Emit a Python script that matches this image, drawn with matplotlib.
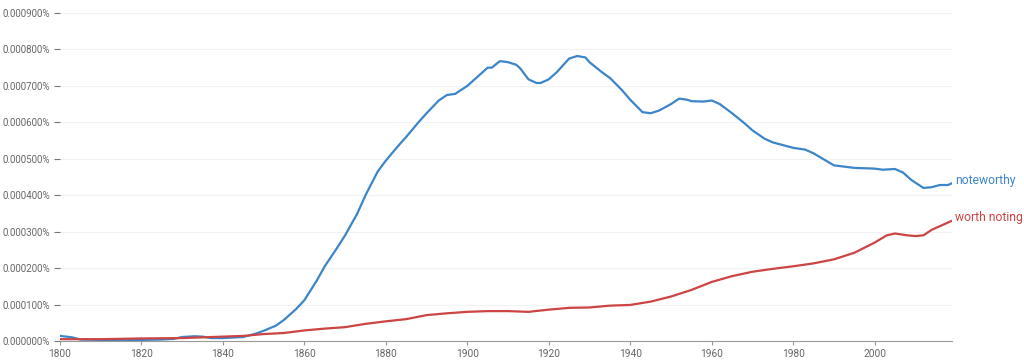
import matplotlib
matplotlib.use("Agg")
import matplotlib.pyplot as plt
from matplotlib.ticker import FuncFormatter

plt.rcParams["font.family"] = ["Roboto", "DejaVu Sans"]

years_nw = [1800, 1803, 1805, 1810, 1815, 1820, 1825, 1828, 1830, 1833, 1835, 1837, 1840, 1845,
            1848, 1850, 1853, 1855, 1858, 1860, 1863, 1865, 1868, 1870, 1873, 1875, 1878, 1880,
            1883, 1885, 1888, 1890, 1893, 1895, 1897, 1900, 1903, 1905, 1906, 1908, 1910, 1912,
            1913, 1915, 1917, 1918, 1920, 1922, 1925, 1927, 1929, 1930, 1933, 1935, 1938, 1940,
            1943, 1945, 1947, 1950, 1952, 1954, 1955, 1958, 1960, 1962, 1965, 1968, 1970, 1973,
            1975, 1980, 1983, 1985, 1990, 1995, 2000, 2002, 2005, 2007, 2009, 2012, 2014, 2016,
            2018, 2019]
noteworthy = [0.000014, 0.000010, 0.000004, 0.000003, 0.000003, 0.000003, 0.000004, 0.000006,
              0.000011, 0.000013, 0.000012, 0.000008, 0.000008, 0.000011, 0.000020, 0.000028,
              0.000042, 0.000058, 0.000088, 0.000112, 0.000165, 0.000205, 0.000255, 0.000290,
              0.000350, 0.000400, 0.000465, 0.000495, 0.000535, 0.000560, 0.000600, 0.000625,
              0.000660, 0.000675, 0.000678, 0.000700, 0.000730, 0.000750, 0.000750, 0.000768,
              0.000765, 0.000758, 0.000748, 0.000718, 0.000708, 0.000708, 0.000718, 0.000738,
              0.000775, 0.000782, 0.000778, 0.000765, 0.000738, 0.000722, 0.000688, 0.000662,
              0.000628, 0.000625, 0.000632, 0.000650, 0.000665, 0.000662, 0.000658, 0.000657,
              0.000660, 0.000650, 0.000625, 0.000598, 0.000578, 0.000555, 0.000545, 0.000530,
              0.000525, 0.000515, 0.000482, 0.000475, 0.000473, 0.000470, 0.000472, 0.000462,
              0.000442, 0.000420, 0.000422, 0.000428, 0.000428, 0.000433]

years_wn = [1800, 1810, 1820, 1830, 1840, 1845, 1850, 1855, 1860, 1865, 1870, 1875, 1880, 1885,
            1890, 1895, 1900, 1905, 1910, 1915, 1920, 1925, 1930, 1935, 1940, 1945, 1950, 1955,
            1960, 1965, 1970, 1975, 1980, 1985, 1990, 1995, 2000, 2003, 2005, 2008, 2010, 2012,
            2014, 2017, 2019]
worth_noting = [0.000005, 0.000005, 0.000007, 0.000008, 0.000012, 0.000014, 0.000019, 0.000022,
                0.000029, 0.000034, 0.000038, 0.000047, 0.000054, 0.000060, 0.000071, 0.000076,
                0.000080, 0.000082, 0.000082, 0.000080, 0.000086, 0.000091, 0.000092, 0.000097,
                0.000099, 0.000108, 0.000122, 0.000140, 0.000162, 0.000178, 0.000190, 0.000198,
                0.000205, 0.000213, 0.000224, 0.000242, 0.000270, 0.000290, 0.000295, 0.000290,
                0.000288, 0.000290, 0.000305, 0.000320, 0.000330]

series_names = ["noteworthy", "worth noting"]
colors = ["#3b85c8", "#cc4444"]

y_ticks = [i * 0.0001 for i in range(10)]
x_ticks = [1800, 1820, 1840, 1860, 1880, 1900, 1920, 1940, 1960, 1980, 2000]

fig = plt.figure(figsize=(10.24, 3.63), dpi=100)
ax = fig.add_axes([60 / 1024, 22 / 363, (952 - 60) / 1024, (341 - 13) / 363])

ax.plot(years_nw, noteworthy, color=colors[0], lw=1.6, solid_capstyle="round")
ax.plot(years_wn, worth_noting, color=colors[1], lw=1.6, solid_capstyle="round")

ax.text(2019.8, noteworthy[-1] + 0.000008, series_names[0], color=colors[0], fontsize=8.7,
        va="center", ha="left", clip_on=False)
ax.text(2019.8, worth_noting[-1] + 0.000008, series_names[1], color=colors[1], fontsize=8.7,
        va="center", ha="left", clip_on=False)

ax.set_xlim(1800, 2019)
ax.set_ylim(0, 0.0009)
ax.set_yticks(y_ticks)
ax.set_xticks(x_ticks)
ax.yaxis.set_major_formatter(FuncFormatter(lambda v, p: f"{v:.6f}%"))
ax.grid(axis="y", color="#f2f2f2", lw=0.8)
ax.set_axisbelow(True)
for s in ["top", "right", "left"]:
    ax.spines[s].set_visible(False)
ax.spines["bottom"].set_color("#999999")
ax.tick_params(axis="y", length=4, color="#777777", labelsize=7, labelcolor="#666666", pad=3)
ax.tick_params(axis="x", length=3, color="#999999", labelsize=7.3, labelcolor="#666666", pad=3)

fig.savefig("out.png", dpi=100)
